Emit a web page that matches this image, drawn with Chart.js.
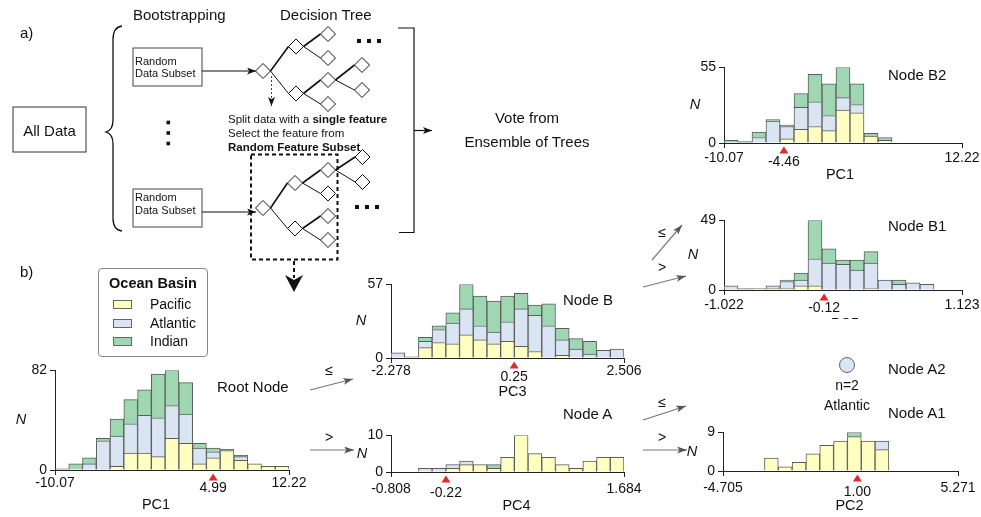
<!DOCTYPE html>
<html>
<head>
<meta charset="utf-8">
<script src="https://cdn.jsdelivr.net/npm/chart.js@4.4.1/dist/chart.umd.min.js"></script>
<style>
  body { margin: 0; background: #fff; font-family: "Liberation Sans", Arial, sans-serif; }
  #page { position: relative; width: 981px; height: 517px; overflow: hidden; background: #fff; }
  #page canvas { position: absolute; }
  #diagram { position: absolute; left: 0; top: 0; pointer-events: none; }
  #legend { position: absolute; left: 98px; top: 268px; width: 110px; height: 89px; border: 1px solid #888; border-radius: 4px; box-sizing: border-box; }
  #legend .ttl { position: absolute; left: 0; width: 100%; top: 6px; text-align: center; font-weight: bold; font-size: 14.5px; color: #111; }
  #legend .row { position: absolute; left: 14px; font-size: 14px; color: #111; line-height: 16px; }
  #legend .sw { display: inline-block; width: 17px; height: 7px; border: 1px solid #666; vertical-align: middle; margin-right: 18px; margin-top: -2px; }
</style>
</head>
<body>
<div id="page">
  <svg id="diagram" width="981" height="517" font-family="Liberation Sans, Arial, sans-serif"></svg>
  <div id="legend">
    <div class="ttl">Ocean Basin</div>
    <div class="row" style="top:27px"><span class="sw" style="background:#ffffc2"></span>Pacific</div>
    <div class="row" style="top:46px"><span class="sw" style="background:#dae5f4"></span>Atlantic</div>
    <div class="row" style="top:64px"><span class="sw" style="background:#9fd7b3"></span>Indian</div>
  </div>
</div>
<script>
// ---- data: 17 equal-width bins per node, counts per ocean basin ----
const bins = ['1', '2', '3', '4', '5', '6', '7', '8', '9', '10', '11', '12', '13', '14', '15', '16', '17'];

const rootPacific  = [0, 0, 0, 0, 3, 14, 14, 11, 26, 22, 5, 10, 16, 8, 5, 3, 3];
const rootAtlantic = [0, 0, 5, 24, 25, 24, 31, 32, 27, 24, 13, 5, 0, 3, 0, 0, 0];
const rootIndian   = [1, 5, 5, 2, 14, 20, 21, 36, 29, 26, 4, 3, 1, 1, 0, 0, 0];
const rootTicks = [-10.07, 4.99, 12.22];
const rootTickLabels = ['-10.07', '4.99', '12.22'];
const rootMax = 82;

const nodeBPacific  = [0, 0, 8, 12, 11, 18, 14, 11, 13, 9, 5, 0, 2, 0, 0, 0, 0];
const nodeBAtlantic = [4, 1, 5, 10, 16, 20, 11, 9, 15, 29, 28, 25, 12, 7, 3, 6, 7];
const nodeBIndian   = [0, 0, 3, 3, 8, 19, 23, 24, 20, 12, 8, 17, 9, 8, 10, 0, 0];
const nodeBTicks = [-2.278, 0.25, 2.506];
const nodeBTickLabels = ['-2.278', '0.25', '2.506'];
const nodeBMax = 57;

const nodeAPacific  = [0, 0, 0, 0, 1, 2, 2, 1, 4, 10, 5, 4, 2, 1, 3, 4, 4];
const nodeAAtlantic = [0, 0, 1, 1, 1, 1, 0, 0, 0, 0, 0, 0, 0, 0, 0, 0, 0];
const nodeAIndian   = [0, 0, 0, 0, 0, 0, 0, 1, 0, 0, 0, 0, 0, 0, 0, 0, 0];
const nodeATicks = [-0.808, -0.22, 1.684];
const nodeATickLabels = ['-0.808', '-0.22', '1.684'];
const nodeAMax = 10;

const nodeB2Pacific  = [0, 0, 0, 0, 3, 10, 12, 9, 24, 22, 5, 2, 0, 0, 0, 0, 0];
const nodeB2Atlantic = [0, 0, 4, 16, 9, 16, 18, 11, 9, 6, 0, 0, 0, 0, 0, 0, 0];
const nodeB2Indian   = [2, 1, 4, 1, 1, 10, 20, 23, 22, 15, 2, 2, 0, 0, 0, 0, 0];
const nodeB2Ticks = [-10.07, -4.46, 12.22];
const nodeB2TickLabels = ['-10.07', '-4.46', '12.22'];
const nodeB2Max = 55;

const nodeB1Pacific  = [0, 0, 1, 1, 1, 3, 3, 0, 0, 0, 1, 0, 0, 0, 0, 0, 0];
const nodeB1Atlantic = [3, 1, 0, 2, 5, 4, 19, 19, 18, 14, 18, 7, 4, 5, 4, 0, 0];
const nodeB1Indian   = [0, 0, 0, 0, 1, 5, 27, 10, 3, 7, 8, 0, 3, 0, 0, 0, 0];
const nodeB1Ticks = [-1.022, -0.12, 1.123];
const nodeB1TickLabels = ['-1.022', '-0.12', '1.123'];
const nodeB1Max = 49;

const nodeA1Pacific  = [0, 0, 0, 3, 1, 2, 4, 6, 7, 8, 7, 5, 0, 0, 0, 0, 0];
const nodeA1Atlantic = [0, 0, 0, 0, 0, 0, 0, 0, 0, 0, 0, 2, 0, 0, 0, 0, 0];
const nodeA1Indian   = [0, 0, 0, 0, 0, 0, 0, 0, 0, 1, 0, 0, 0, 0, 0, 0, 0];
const nodeA1Ticks = [-4.705, 1.00, 5.271];
const nodeA1TickLabels = ['-4.705', '1.00', '5.271'];
const nodeA1Max = 9;

// ---- styles ----
const FONT = '"Liberation Sans", Arial, sans-serif';
const TICK_SIZE = 14;
const colPacific = '#ffffc2';
const colAtlantic = '#dae5f4';
const colIndian = '#9fd7b3';
const barBorder = '#5c5c5c';
const AXIS_W = 40, PAD_TOP = 10, PAD_RIGHT = 24;

const page = document.getElementById('page');

// split marker, axis title and N label
const histDecor = {
  id: 'histDecor',
  afterDraw(chart, args, o) {
    const ctx = chart.ctx;
    const area = chart.chartArea;
    const sx = chart.scales.xv.getPixelForValue(o.split);
    ctx.save();
    ctx.fillStyle = '#e8262d';
    ctx.beginPath();
    ctx.moveTo(sx, area.bottom + 3.5);
    ctx.lineTo(sx + 4.5, area.bottom + 10.5);
    ctx.lineTo(sx - 4.5, area.bottom + 10.5);
    ctx.closePath();
    ctx.fill();
    ctx.fillStyle = '#111';
    ctx.textAlign = 'center';
    ctx.textBaseline = 'middle';
    ctx.font = TICK_SIZE + 'px ' + FONT;
    ctx.fillText(o.splitLabel, sx, area.bottom + o.splitGap);
    ctx.font = '14.5px ' + FONT;
    ctx.fillText(o.title, (area.left + area.right) / 2 + o.titleShift, area.bottom + o.titleGap);
    ctx.font = 'italic 14.5px ' + FONT;
    ctx.fillText('N', area.left - o.nGap, (area.top + area.bottom) / 2);
    ctx.restore();
  }
};

function makeHist(cfg) {
  const b = cfg.box;
  const cv = document.createElement('canvas');
  cv.width = b.right - b.left + AXIS_W + PAD_RIGHT;
  cv.height = b.bottom - b.top + PAD_TOP + b.axisH;
  cv.style.left = (b.left - AXIS_W) + 'px';
  cv.style.top = (b.top - PAD_TOP) + 'px';
  page.insertBefore(cv, document.getElementById('diagram'));
  const [xMin, xSplit, xMax] = cfg.ticks;
  const seg = (label, data, color) => ({
    label, data, backgroundColor: color, borderColor: barBorder, borderWidth: 1,
    barPercentage: 1, categoryPercentage: 1, stack: 's'
  });
  new Chart(cv, {
    type: 'bar',
    data: {
      labels: bins,
      datasets: [
        seg('Pacific', cfg.pacific, colPacific),
        seg('Atlantic', cfg.atlantic, colAtlantic),
        seg('Indian', cfg.indian, colIndian)
      ]
    },
    options: {
      responsive: false,
      animation: false,
      devicePixelRatio: 1,
      layout: { padding: { left: 0, top: PAD_TOP, right: PAD_RIGHT, bottom: 0 } },
      plugins: {
        legend: { display: false },
        tooltip: { enabled: false },
        histDecor: {
          split: xSplit, splitLabel: cfg.labels[1], title: cfg.title,
          splitGap: b.splitGap, titleGap: b.titleGap, titleShift: b.titleShift, nGap: b.nGap
        }
      },
      scales: {
        x: { display: false, stacked: true },
        xv: {
          type: 'linear', position: 'bottom', min: xMin, max: xMax, offset: false,
          afterBuildTicks: s => { s.ticks = [{ value: xMin }, { value: xMax }]; },
          afterFit: s => { s.height = b.axisH; s.paddingLeft = 0; s.paddingRight = 0; },
          grid: { offset: false, drawOnChartArea: false, drawTicks: true, tickLength: 5, color: '#222' },
          border: { display: true, color: '#222', width: 1 },
          ticks: {
            padding: b.tickPad, color: '#111', font: { family: FONT, size: TICK_SIZE },
            maxRotation: 0, autoSkip: false,
            callback: (v, i) => (i === 0 ? cfg.labels[0] : cfg.labels[2])
          }
        },
        y: {
          stacked: true, min: 0, max: cfg.yMax,
          afterBuildTicks: s => { s.ticks = [{ value: 0 }, { value: cfg.yMax }]; },
          afterFit: s => { s.width = AXIS_W; },
          grid: { drawOnChartArea: false, drawTicks: true, tickLength: 5, color: '#222' },
          border: { display: true, color: '#222', width: 1 },
          ticks: { padding: 3, color: '#111', font: { family: FONT, size: TICK_SIZE } }
        }
      }
    },
    plugins: [histDecor]
  });
}

makeHist({ pacific: rootPacific, atlantic: rootAtlantic, indian: rootIndian, ticks: rootTicks, labels: rootTickLabels, yMax: rootMax, title: 'PC1',
  box: { left: 55, top: 369, right: 289, bottom: 470, axisH: 46, tickPad: 0, splitGap: 18, titleGap: 35, titleShift: -16, nGap: 34 } });
makeHist({ pacific: nodeBPacific, atlantic: nodeBAtlantic, indian: nodeBIndian, ticks: nodeBTicks, labels: nodeBTickLabels, yMax: nodeBMax, title: 'PC3',
  box: { left: 391, top: 283, right: 624, bottom: 358, axisH: 44, tickPad: 0, splitGap: 19, titleGap: 34, titleShift: 5, nGap: 30 } });
makeHist({ pacific: nodeAPacific, atlantic: nodeAAtlantic, indian: nodeAIndian, ticks: nodeATicks, labels: nodeATickLabels, yMax: nodeAMax, title: 'PC4',
  box: { left: 391, top: 434, right: 624, bottom: 472, axisH: 44, tickPad: 4, splitGap: 21, titleGap: 34, titleShift: 9, nGap: 29 } });
makeHist({ pacific: nodeB2Pacific, atlantic: nodeB2Atlantic, indian: nodeB2Indian, ticks: nodeB2Ticks, labels: nodeB2TickLabels, yMax: nodeB2Max, title: 'PC1',
  box: { left: 724, top: 66, right: 962, bottom: 143, axisH: 42, tickPad: 2, splitGap: 19, titleGap: 32, titleShift: -3, nGap: 29 } });
makeHist({ pacific: nodeB1Pacific, atlantic: nodeB1Atlantic, indian: nodeB1Indian, ticks: nodeB1Ticks, labels: nodeB1TickLabels, yMax: nodeB1Max, title: 'PC5',
  box: { left: 724, top: 219, right: 962, bottom: 290, axisH: 29, tickPad: 2, splitGap: 18, titleGap: 34, titleShift: 2, nGap: 31 } });
makeHist({ pacific: nodeA1Pacific, atlantic: nodeA1Atlantic, indian: nodeA1Indian, ticks: nodeA1Ticks, labels: nodeA1TickLabels, yMax: nodeA1Max, title: 'PC2',
  box: { left: 723, top: 431, right: 958, bottom: 471, axisH: 44, tickPad: 4, splitGap: 21, titleGap: 35, titleShift: 9, nGap: 31 } });

// ---- diagram (panel a, arrows, node titles) ----
const NS = 'http://www.w3.org/2000/svg';
const svg = document.getElementById('diagram');
function el(tag, attrs, parent) {
  const e = document.createElementNS(NS, tag);
  for (const k in attrs) e.setAttribute(k, attrs[k]);
  (parent || svg).appendChild(e);
  return e;
}
function text(x, y, str, size, extra) {
  const t = el('text', Object.assign({ x, y, 'font-size': size, fill: '#111', 'dominant-baseline': 'central' }, extra || {}));
  t.textContent = str;
  return t;
}

const defs = el('defs', {});
const mk = (id, color, w, h) => {
  const m = el('marker', { id, markerWidth: w, markerHeight: h, refX: w, refY: h / 2, orient: 'auto', markerUnits: 'userSpaceOnUse' }, defs);
  el('path', { d: `M0,0 L${w},${h / 2} L0,${h} L${w * 0.25},${h / 2} Z`, fill: color }, m);
};
mk('ahBlack', '#111', 9, 7);
mk('ahGray', '#555', 10, 7);

text(20, 32, 'a)', 15);
text(20, 271, 'b)', 15);
text(133, 14, 'Bootstrapping', 15);
text(280, 14, 'Decision Tree', 15);

el('rect', { x: 13, y: 107, width: 73, height: 45, fill: 'none', stroke: '#333', 'stroke-width': 1 });
text(49.5, 130, 'All Data', 15, { 'text-anchor': 'middle' });

// curly brace
el('path', { d: 'M122,26 Q113,27 113,40 L113,120 Q113,130 106,132 Q113,134 113,144 L113,218 Q113,230 122,231', fill: 'none', stroke: '#111', 'stroke-width': 1.3 });

// random data subset boxes
[[48, 61, 73], [189, 196.5, 210]].forEach(([y0, t1, t2]) => {
  el('rect', { x: 133, y: y0, width: 69, height: 38, fill: 'none', stroke: '#444', 'stroke-width': 1 });
  text(135, t1, 'Random', 11);
  text(135, t2, 'Data Subset', 11);
  el('line', { x1: 202, y1: y0 + 23, x2: 256, y2: y0 + 23, stroke: '#111', 'stroke-width': 1.2, 'marker-end': 'url(#ahBlack)' });
});

// vertical ellipsis
[122.5, 133, 143.5].forEach(y => el('rect', { x: 166.5, y: y - 1.8, width: 3.6, height: 3.6, fill: '#111' }));

// trees
function tree(nodes, edges) {
  const H = 7.5;
  edges.forEach(([a, b]) => {
    const p = nodes[a], q = nodes[b];
    el('line', { x1: p[0] + H, y1: p[1], x2: q[0] - H, y2: q[1], stroke: '#111', 'stroke-width': q[1] < p[1] ? 1.6 : 1 });
  });
  Object.values(nodes).forEach(([x, y]) => {
    el('path', { d: `M${x - H},${y} L${x},${y - H} L${x + H},${y} L${x},${y + H} Z`, fill: '#fff', stroke: '#111', 'stroke-width': 1 });
  });
}
tree({ R: [263, 71], A: [296, 46.5], B: [296, 93.5], AA: [328, 34], AB: [328, 58], BA: [328, 80], BB: [328, 104], BAA: [362, 65], BAB: [362, 90] },
  [['R', 'A'], ['R', 'B'], ['A', 'AA'], ['A', 'AB'], ['B', 'BA'], ['B', 'BB'], ['BA', 'BAA'], ['BA', 'BAB']]);
tree({ R: [263, 208], A: [295, 183], B: [295, 228.5], AA: [328, 170], AB: [328, 193.5], BA: [328, 216], BB: [328, 240], AAA: [362.5, 157], AAB: [362.5, 182] },
  [['R', 'A'], ['R', 'B'], ['A', 'AA'], ['A', 'AB'], ['B', 'BA'], ['B', 'BB'], ['AA', 'AAA'], ['AA', 'AAB']]);

// horizontal ellipses
[[357, 41], [355, 207]].forEach(([x, y]) => {
  for (let i = 0; i < 3; i++) el('rect', { x: x + i * 10, y: y - 2, width: 4, height: 4, fill: '#111' });
});

// dotted arrow from first split
el('line', { x1: 271.5, y1: 76, x2: 271.5, y2: 106, stroke: '#444', 'stroke-width': 1, 'stroke-dasharray': '2,2', 'marker-end': 'url(#ahBlack)' });

const s1 = text(228, 118.5, 'Split data with a ', 11.5);
const b1 = el('tspan', { 'font-weight': 'bold' }, s1); b1.textContent = 'single feature';
text(228, 132.5, 'Select the feature from', 11.5);
text(228, 147, 'Random Feature Subset', 11.5, { 'font-weight': 'bold' });

// dashed focus box and arrow down to panel b
el('rect', { x: 251, y: 154.5, width: 86.5, height: 105, fill: 'none', stroke: '#111', 'stroke-width': 2, 'stroke-dasharray': '4,3' });
el('line', { x1: 294, y1: 261, x2: 294, y2: 278, stroke: '#111', 'stroke-width': 2, 'stroke-dasharray': '4,3' });
el('path', { d: 'M285,275 L294,280 L303,275 L294,292 Z', fill: '#111' });

// ensemble bracket and vote
el('path', { d: 'M398,28 L414,28 L414,232.5 L399,232.5', fill: 'none', stroke: '#111', 'stroke-width': 1.2 });
el('line', { x1: 414, y1: 130.5, x2: 432, y2: 130.5, stroke: '#111', 'stroke-width': 1.2, 'marker-end': 'url(#ahBlack)' });
text(527, 117, 'Vote from', 15, { 'text-anchor': 'middle' });
text(527, 141, 'Ensemble of Trees', 15, { 'text-anchor': 'middle' });

// node titles
text(217, 386, 'Root Node', 15);
text(563, 299, 'Node B', 15);
text(563, 413, 'Node A', 15);
text(888, 74, 'Node B2', 15);
text(888, 225, 'Node B1', 15);
text(888, 368, 'Node A2', 15);
text(888, 412, 'Node A1', 15);

// leaf A2
el('circle', { cx: 847, cy: 365, r: 7.5, fill: colAtlantic, stroke: '#666', 'stroke-width': 1 });
text(847, 385, 'n=2', 14, { 'text-anchor': 'middle' });
text(847, 405, 'Atlantic', 14, { 'text-anchor': 'middle' });

// split arrows between nodes
[
  [310, 390, 353, 379, '≤', 329, 370],
  [310, 450, 354, 450, '>', 329, 437],
  [652, 260, 682, 225, '≤', 662, 232],
  [643, 287, 686, 276, '>', 662, 267],
  [643, 420, 686, 406, '≤', 662, 402],
  [643, 450, 687, 450, '>', 662, 437]
].forEach(([x1, y1, x2, y2, sym, tx, ty]) => {
  el('line', { x1, y1, x2, y2, stroke: '#777', 'stroke-width': 1.2, 'marker-end': 'url(#ahGray)' });
  text(tx, ty, sym, 14, { 'text-anchor': 'middle' });
});
</script>
</body>
</html>
